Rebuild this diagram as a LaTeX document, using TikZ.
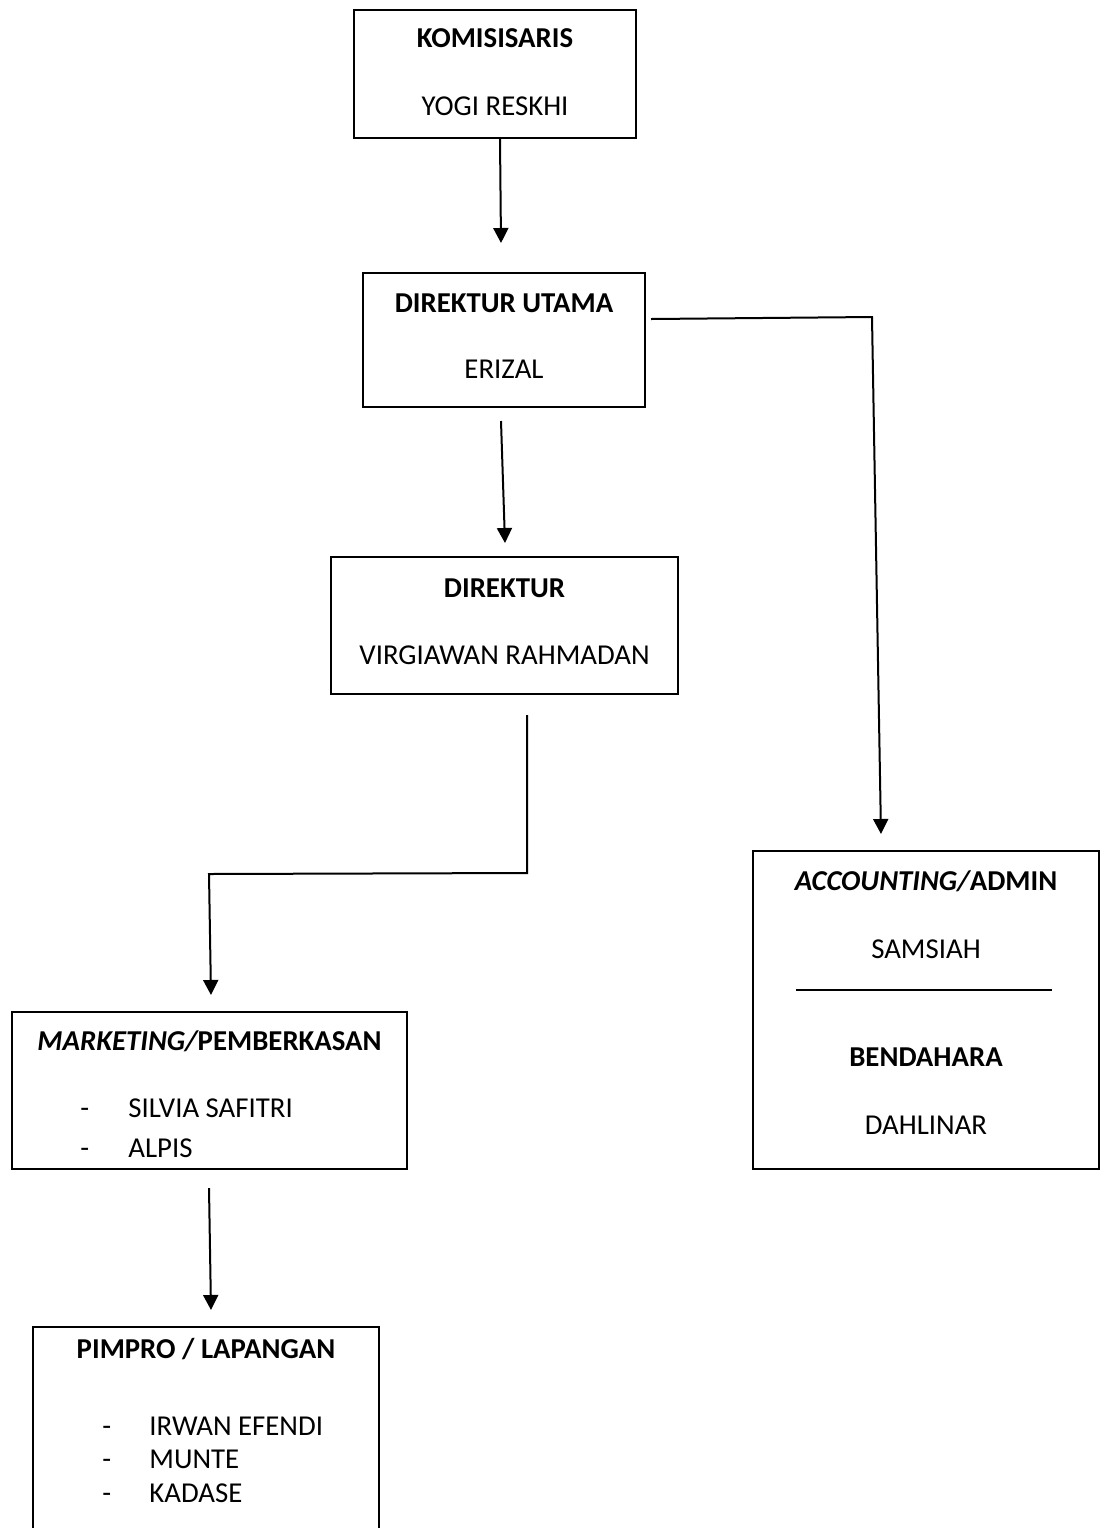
\documentclass[tikz,border=0pt]{standalone}
\usepackage{fontspec}
\setmainfont{Carlito}
\usetikzlibrary{arrows.meta}

\begin{document}
\begin{tikzpicture}[x=0.5pt, y=-0.5pt, font=\fontsize{14.4}{17}\selectfont,
    box/.style={draw, line width=0.8pt, inner sep=0pt},
    boxtitle/.style={anchor=base, font=\fontsize{14.4}{17}\selectfont\bfseries},
    boxname/.style={anchor=base},
    boxitem/.style={anchor=base west, inner sep=0pt},
    conn/.style={line width=1pt},
    arr/.style={conn, -{Triangle[length=7.5pt, width=7.5pt]}}]
    \useasboundingbox (0,0) rectangle (1101,1528);
    \clip (0,0) rectangle (1101,1528);

    % boxes
    \node[box, minimum width=141pt, minimum height=64pt] (kom) at (495,74) {};
    \node[box, minimum width=141pt, minimum height=67pt] (du) at (504,340) {};
    \node[box, minimum width=173.5pt, minimum height=68.5pt] (dir) at (504.5,625.5) {};
    \node[box, minimum width=173pt, minimum height=159pt] (acc) at (926,1010) {};
    \node[box, minimum width=197.5pt, minimum height=78.5pt] (mkt) at (209.5,1090.5) {};
    \node[box, minimum width=173pt, minimum height=109pt] (pim) at (206,1436) {};

    % texts
    \node[boxtitle] (kom-t) at (495,47) {KOMISISARIS};
    \node[boxname] (kom-n) at (495,115) {YOGI RESKHI};
    \node[boxtitle] (du-t) at (504,312) {DIREKTUR UTAMA};
    \node[boxname] (du-n) at (504,378) {ERIZAL};
    \node[boxtitle] (dir-t) at (504.5,597) {DIREKTUR};
    \node[boxname] (dir-n) at (504.5,664) {VIRGIAWAN RAHMADAN};
    \node[boxtitle] (acc-t) at (926,890) {\itshape ACCOUNTING/\upshape ADMIN};
    \node[boxname] (acc-n) at (926,958) {SAMSIAH};
    \node[boxtitle] (ben-t) at (926,1066) {BENDAHARA};
    \node[boxname] (ben-n) at (926,1134) {DAHLINAR};
    \node[boxtitle] (mkt-t) at (209.5,1050) {\itshape MARKETING/\upshape PEMBERKASAN};
    \node[boxitem] (mkt-d1) at (80,1117) {-};
    \node[boxitem] (mkt-n1) at (128,1117) {SILVIA SAFITRI};
    \node[boxitem] (mkt-d2) at (80,1157) {-};
    \node[boxitem] (mkt-n2) at (128,1157) {ALPIS};
    \node[boxtitle] (pim-t) at (206,1358) {PIMPRO / LAPANGAN};
    \node[boxitem] (pim-d1) at (102,1435) {-};
    \node[boxitem] (pim-n1) at (149,1435) {IRWAN EFENDI};
    \node[boxitem] (pim-d2) at (102,1468) {-};
    \node[boxitem] (pim-n2) at (149,1468) {MUNTE};
    \node[boxitem] (pim-d3) at (102,1502) {-};
    \node[boxitem] (pim-n3) at (149,1502) {KADASE};

    % separator in accounting box
    \draw[conn] (796,990) -- (1052,990);

    % connector ends
    \coordinate (k1) at (500,139);
    \coordinate (k2) at (501,243);
    \coordinate (u1) at (501,421);
    \coordinate (u2) at (505,543);
    \coordinate (r1) at (651,319);
    \coordinate (r2) at (872,317);
    \coordinate (r3) at (881,834);
    \coordinate (d1) at (527,715);
    \coordinate (d2) at (527,873);
    \coordinate (d3) at (209,874);
    \coordinate (d4) at (211,995);
    \coordinate (m1) at (209,1188);
    \coordinate (m2) at (211,1310);

    % connectors
    \draw[arr] (k1) -- (k2);
    \draw[arr] (u1) -- (u2);
    \draw[arr] (r1) -- (r2) -- (r3);
    \draw[arr] (d1) -- (d2) -- (d3) -- (d4);
    \draw[arr] (m1) -- (m2);
\end{tikzpicture}
\end{document}
